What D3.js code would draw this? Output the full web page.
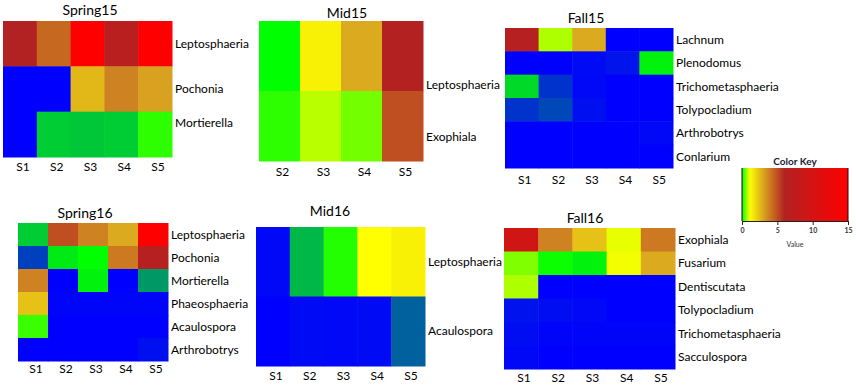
<!doctype html>
<html>
<head>
<meta charset="utf-8">
<script src="https://cdn.jsdelivr.net/npm/d3@7"></script>
<style>
  body { margin: 0; background: #fff; }
  svg { display: block; font-family: Lato, "Open Sans", sans-serif; }
</style>
</head>
<body>
<svg id="chart" width="856" height="388"></svg>
<script>
// values; below 0 shades toward blue (not detected)
const spring15Rows = ["Leptosphaeria", "Pochonia", "Mortierella"];
const spring15Cols = ["S1", "S2", "S3", "S4", "S5"];
const spring15Values = [
  [6, 4.4, 15, 6.8, 15],
  [-1, -1, 2.6, 3.8, 3.1],
  [-1, -0.2, -0.22, -0.2, 0.2]
];

const mid15Rows = ["Leptosphaeria", "Exophiala"];
const mid15Cols = ["S2", "S3", "S4", "S5"];
const mid15Values = [
  [0, 1.4, 2.9, 6.2],
  [0.2, 0.8, 0.5, 5]
];

const fall15Rows = ["Lachnum", "Plenodomus", "Trichometasphaeria", "Tolypocladium", "Arthrobotrys", "Conlarium"];
const fall15Cols = ["S1", "S2", "S3", "S4", "S5"];
const fall15Values = [
  [6.5, 0.75, 2.9, -1, -1],
  [-1, -1, -0.96, -0.92, -0.05],
  [-0.15, -0.8, -0.97, -1, -1],
  [-0.8, -0.72, -0.94, -1, -1],
  [-1, -1, -1, -1, -0.97],
  [-1, -1, -1, -1, -1]
];

const spring16Rows = ["Leptosphaeria", "Pochonia", "Mortierella", "Phaeosphaeria", "Acaulospora", "Arthrobotrys"];
const spring16Cols = ["S1", "S2", "S3", "S4", "S5"];
const spring16Values = [
  [-0.2, 5, 3.8, 2.9, 15],
  [-0.75, -0.08, 0, 4, 6.6],
  [3.8, -1, -0.05, -1, -0.4],
  [2.4, -0.98, -0.98, -0.98, -0.98],
  [0.25, -1, -1, -1, -1],
  [-1, -1, -1, -1, -0.94]
];

const mid16Rows = ["Leptosphaeria", "Acaulospora"];
const mid16Cols = ["S1", "S2", "S3", "S4", "S5"];
const mid16Values = [
  [-0.97, -0.28, 0.15, 1.1, 1.4],
  [-1, -0.96, -0.97, -0.96, -0.62]
];

const fall16Rows = ["Exophiala", "Fusarium", "Dentiscutata", "Tolypocladium", "Trichometasphaeria", "Sacculospora"];
const fall16Cols = ["S1", "S2", "S3", "S4", "S5"];
const fall16Values = [
  [9.5, 3.8, 2.4, 1, 4],
  [0.55, 0.05, -0.05, 1.05, 2.9],
  [0.75, -1, -1, -1, -1],
  [-0.93, -0.95, -0.97, -1, -1],
  [-0.95, -0.98, -0.98, -0.98, -0.98],
  [-0.97, -1, -1, -1, -1]
];

const keyTicks = [0, 5, 10, 15];

const color = d3.scaleLinear()
    .domain([-1, 0, 1.1, 3, 6, 15])
    .range(["#0000ff", "#00ff00", "#ffff00", "#daa520", "#b22222", "#ff0000"])
    .clamp(true);

const panels = [
  {title: "Spring15", rows: spring15Rows, cols: spring15Cols, values: spring15Values,
   x: 3, y: 21, w: 169, h: 136, tx: 90, ty: 15, ly: 171, rowDy: [0, 0, -12]},
  {title: "Mid15", rows: mid15Rows, cols: mid15Cols, values: mid15Values,
   x: 259, y: 21, w: 164, h: 140, tx: 347, ty: 18, ly: 176, rowDy: [29, 11]},
  {title: "Fall15", rows: fall15Rows, cols: fall15Cols, values: fall15Values,
   x: 505, y: 28, w: 168, h: 140, tx: 586, ty: 23, ly: 184},
  {title: "Spring16", rows: spring16Rows, cols: spring16Cols, values: spring16Values,
   x: 18, y: 223, w: 150, h: 138, tx: 85, ty: 218, ly: 373},
  {title: "Mid16", rows: mid16Rows, cols: mid16Cols, values: mid16Values,
   x: 256, y: 227, w: 169, h: 139, tx: 330, ty: 216, ly: 380},
  {title: "Fall16", rows: fall16Rows, cols: fall16Cols, values: fall16Values,
   x: 504, y: 228, w: 171, h: 141, tx: 585, ty: 223, ly: 382}
];

const svg = d3.select("#chart");

for (const p of panels) {
  const x = d3.scaleBand().domain(p.cols).range([p.x, p.x + p.w]);
  const y = d3.scaleBand().domain(p.rows).range([p.y, p.y + p.h]);
  const g = svg.append("g");

  const cells = p.rows.flatMap((r, i) => p.cols.map((c, j) => ({r, c, v: p.values[i][j]})));
  g.selectAll("rect")
    .data(cells)
    .join("rect")
      .attr("x", d => x(d.c))
      .attr("y", d => y(d.r))
      .attr("width", x.bandwidth() + 0.5)
      .attr("height", y.bandwidth() + 0.5)
      .attr("fill", d => color(d.v));

  g.append("text")
      .attr("x", p.tx)
      .attr("y", p.ty)
      .attr("text-anchor", "middle")
      .attr("font-size", 14)
      .text(p.title);

  g.selectAll(".row")
    .data(p.rows)
    .join("text")
      .attr("class", "row")
      .attr("x", p.x + p.w + 3)
      .attr("y", (d, i) => y(d) + y.bandwidth() / 2 + (p.rowDy ? p.rowDy[i] : 0))
      .attr("dy", "0.35em")
      .attr("font-size", 12)
      .text(d => d);

  g.selectAll(".col")
    .data(p.cols)
    .join("text")
      .attr("class", "col")
      .attr("x", d => x(d) + x.bandwidth() / 2 + 3)
      .attr("y", p.ly)
      .attr("text-anchor", "middle")
      .attr("font-size", 12)
      .text(d => d);
}

// color key
const kx = d3.scaleLinear().domain([0, 15]).range([742, 848]);
const key = svg.append("g");
const grad = svg.append("defs").append("linearGradient").attr("id", "keygrad");
grad.selectAll("stop")
  .data(d3.range(0, 15.01, 0.25))
  .join("stop")
    .attr("offset", d => d / 15)
    .attr("stop-color", d => color(d));
key.append("rect")
    .attr("x", kx(0)).attr("y", 168)
    .attr("width", kx(15) - kx(0)).attr("height", 53)
    .attr("fill", "url(#keygrad)");
key.append("line").attr("x1", kx(0)).attr("x2", kx(0)).attr("y1", 168).attr("y2", 221).attr("stroke", "#111");
key.append("line").attr("x1", kx(15)).attr("x2", kx(15)).attr("y1", 168).attr("y2", 221).attr("stroke", "#111");
key.append("text")
    .attr("x", 795).attr("y", 165)
    .attr("text-anchor", "middle")
    .attr("font-size", 10).attr("font-weight", "bold")
    .attr("fill", "#1a1a3a")
    .text("Color Key");
const axis = key.append("g")
    .attr("transform", "translate(0,221)")
    .call(d3.axisBottom(kx).tickValues(keyTicks).tickSize(4).tickPadding(3));
axis.select(".domain").attr("stroke", "#222");
axis.selectAll("line").attr("stroke", "#222");
axis.selectAll("text").attr("font-size", 7).attr("font-weight", "bold").attr("fill", "#333").attr("font-family", "Lato, sans-serif");
key.append("text")
    .attr("x", 795).attr("y", 247)
    .attr("text-anchor", "middle")
    .attr("font-size", 7)
    .attr("fill", "#333")
    .text("Value");
</script>
</body>
</html>
